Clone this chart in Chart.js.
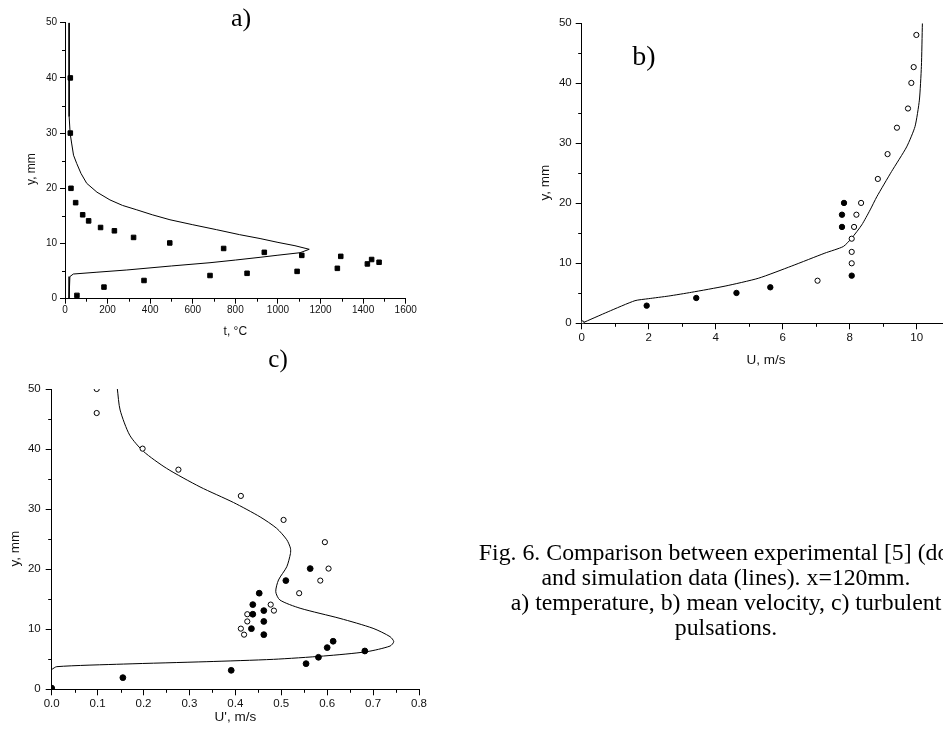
<!DOCTYPE html>
<html>
<head>
<meta charset="utf-8">
<script src="https://cdn.jsdelivr.net/npm/chart.js@4.4.0/dist/chart.umd.min.js"></script>
<style>
  html, body { margin: 0; padding: 0; background: #fff; }
  body { position: relative; width: 943px; height: 733px; overflow: hidden; }
  canvas, .tag, .cap { position: absolute; }
  .tag { font-family: 'Liberation Serif', 'Times New Roman', serif; line-height: 1; transform: translate(-50%, -60%); color: #000; white-space: nowrap; }
  .cap { left: 426px; top: 539.5px; width: 600px; text-align: center; font: 23.8px/25px 'Liberation Serif', 'Times New Roman', serif; color: #000; white-space: nowrap; }
</style>
</head>
<body>
<canvas id="chartA" width="430" height="345" style="left:0;top:0"></canvas>
<canvas id="chartB" width="480" height="370" style="left:500px;top:0"></canvas>
<canvas id="chartC" width="440" height="388" style="left:0;top:345px"></canvas>
<div class="tag" style="left:241px;top:21px;font-size:26px">a)</div>
<div class="tag" style="left:644px;top:59px;font-size:28px">b)</div>
<div class="tag" style="left:278px;top:361px;font-size:25px">c)</div>
<div class="cap">Fig. 6. Comparison between experimental [5] (dots)<br>and simulation data (lines). x=120mm.<br>a) temperature, b) mean velocity, c) turbulent<br>pulsations.</div>
<script>
// a) temperature
const tempLineT = [19, 19, 20, 24, 31, 40, 55, 75, 102, 150, 211, 270, 337, 410, 493, 600, 712, 820, 916, 1000, 1080, 1147, 1104, 1000, 916, 800, 681, 500, 290, 150, 39, 23, 19, 19];
const tempLineY = [50, 40, 33, 30, 28.2, 26, 24.5, 22.7, 20.9, 19.3, 17.9, 16.9, 16.1, 15.2, 14.3, 13.4, 12.5, 11.6, 10.9, 10.2, 9.6, 8.95, 8.33, 7.88, 7.5, 7.0, 6.52, 5.93, 5.2, 4.8, 4.47, 4.0, 3.4, 0];
const tempExpT = [25, 25, 28, 50, 83, 111, 167, 232, 322, 492, 745, 936, 1112, 1295, 1440, 1475, 1420, 1279, 1090, 855, 681, 371, 183, 56];
const tempExpY = [40, 30, 20, 17.4, 15.2, 14.1, 12.9, 12.3, 11.1, 10.1, 9.1, 8.4, 7.85, 7.67, 7.1, 6.6, 6.3, 5.5, 4.95, 4.6, 4.2, 3.3, 2.1, 0.6];

// b) mean velocity
const velLineU = [0, 0.79, 1.59, 1.99, 2.6, 3.28, 4.28, 5.27, 6.27, 7.26, 7.81, 8.06, 8.36, 8.61, 8.81, 9.25, 9.70, 9.95, 10.08, 10.14, 10.17];
const velLineY = [0, 1.93, 3.77, 4.1, 4.55, 5.17, 6.2, 7.5, 9.55, 11.7, 12.8, 14.2, 16.4, 18.9, 21.1, 25.3, 29.4, 32.8, 37.2, 42.8, 50];
const velFilledU = [1.94, 3.42, 4.62, 5.63, 8.06, 7.77, 7.77, 7.83];
const velFilledY = [2.94, 4.22, 5.06, 6.0, 7.94, 16.06, 18.1, 20.06];
const velOpenU = [0, 7.04, 8.06, 8.06, 8.06, 8.13, 8.2, 8.34, 8.84, 9.13, 9.41, 9.74, 9.84, 9.91, 9.99];
const velOpenY = [0, 7.1, 10, 11.9, 14.1, 16.06, 18.1, 20.06, 24.06, 28.2, 32.6, 35.8, 40.06, 42.7, 48.06];

// c) turbulent pulsations
const pulsLineU = [0.143, 0.149, 0.170, 0.2, 0.25, 0.323, 0.396, 0.454, 0.49, 0.512, 0.52, 0.52, 0.512, 0.494, 0.488, 0.497, 0.541, 0.628, 0.70, 0.737, 0.745, 0.737, 0.686, 0.592, 0.483, 0.338, 0.156, 0.011, 0];
const pulsLineY = [50, 46.5, 42.3, 39.6, 36.8, 33.7, 31.1, 28.7, 26.8, 24.9, 23.5, 22.6, 20.4, 18.2, 16.25, 14.87, 13.5, 11.8, 10.15, 8.76, 7.93, 7.2, 6.26, 5.54, 4.99, 4.6, 4.2, 3.77, 3.3];
const pulsOpenU = [0.098, 0.098, 0.198, 0.276, 0.412, 0.505, 0.595, 0.603, 0.585, 0.539, 0.477, 0.484, 0.426, 0.426, 0.412, 0.419];
const pulsOpenY = [50, 46, 40.07, 36.57, 32.2, 28.2, 24.5, 20.1, 18.1, 16, 14.1, 13.1, 12.5, 11.3, 10.1, 9.1];
const pulsFilledU = [0.563, 0.51, 0.452, 0.438, 0.438, 0.462, 0.462, 0.435, 0.462, 0.613, 0.6, 0.682, 0.581, 0.554, 0.391, 0.155, 0];
const pulsFilledY = [20.1, 18.1, 16, 14.1, 12.5, 13.1, 11.3, 10.1, 9.1, 8.0, 6.94, 6.38, 5.33, 4.27, 3.16, 1.94, 0.2];

const pairs = (xs, ys) => xs.map((x, i) => ({ x: x, y: ys[i] }));

const line = (xs, ys, tension) => ({
  data: pairs(xs, ys), showLine: true, borderColor: '#000', borderWidth: 1,
  pointRadius: 0, tension: tension, fill: false
});

const marks = (xs, ys, style, filled, r) => ({
  data: pairs(xs, ys), showLine: false, pointStyle: style, pointRadius: r,
  pointBackgroundColor: filled ? '#000' : '#fff', pointBorderColor: '#000', pointBorderWidth: 1
});

// short ticks between the labelled ones
const minorTicks = {
  id: 'minorTicks',
  afterDraw(chart, args, opts) {
    const ctx = chart.ctx;
    ctx.save();
    ctx.strokeStyle = '#000';
    ctx.lineWidth = 1;
    ctx.beginPath();
    ['x', 'y'].forEach(id => {
      const s = chart.scales[id];
      const step = opts[id];
      if (!step) return;
      for (let i = 1; s.min + i * step <= s.max + 1e-9; i += 2) {
        const p = Math.round(s.getPixelForValue(s.min + i * step)) + 0.5;
        if (id === 'x') { ctx.moveTo(p, s.top); ctx.lineTo(p, s.top + opts.len); }
        else { ctx.moveTo(s.right - opts.len, p); ctx.lineTo(s.right, p); }
      }
    });
    ctx.stroke();
    ctx.restore();
  }
};

// y titles sit a little below the middle of the axis in the original
const lowered = t => t + '\u00A0\u00A0\u00A0\u00A0\u00A0';

function axisChart(id, o) {
  const cv = document.getElementById(id);
  const W = cv.width, H = cv.height, a = o.area;
  const tickFont = { family: "'Liberation Sans', Arial, sans-serif", size: o.tickSize };
  const titleFont = { family: "'Liberation Sans', Arial, sans-serif", size: o.titleSize };
  const half = o.titleSize * 0.6;
  return new Chart(cv, {
    type: 'scatter',
    data: { datasets: o.datasets },
    options: {
      responsive: false,
      animation: false,
      events: [],
      layout: { padding: { left: 0, top: a.t, right: W - a.r, bottom: 0 } },
      plugins: {
        legend: { display: false },
        tooltip: { enabled: false },
        minorTicks: { x: o.x.minor, y: o.y.minor, len: o.minorLen }
      },
      scales: {
        x: {
          type: 'linear', min: o.x.min, max: o.x.max,
          border: { color: '#000', width: 1 },
          grid: { drawOnChartArea: false, tickLength: o.tickLen, tickColor: '#000' },
          ticks: { color: '#111', font: tickFont, padding: o.x.pad, stepSize: o.x.step, includeBounds: false, maxRotation: 0, autoSkip: false, callback: o.x.fmt },
          title: { display: true, text: o.x.title, color: '#111', font: titleFont, padding: { top: 0, bottom: H - o.xTitleY - half } },
          afterFit: s => { s.height = H - a.b; }
        },
        y: {
          type: 'linear', min: o.y.min, max: o.y.max,
          border: { color: '#000', width: 1 },
          grid: { drawOnChartArea: false, tickLength: o.tickLen, tickColor: '#000' },
          ticks: { color: '#111', font: tickFont, padding: o.y.pad, stepSize: o.y.step, includeBounds: false, autoSkip: false, callback: o.y.fmt },
          title: { display: true, text: lowered(o.y.title), color: '#111', font: titleFont, padding: { top: o.yTitleX - half, bottom: 0 } },
          afterFit: s => { s.width = a.l; }
        }
      }
    },
    plugins: [minorTicks]
  });
}

const plain = v => v;

axisChart('chartA', {
  area: { l: 65, t: 22.7, r: 405.7, b: 298.7 },
  tickSize: 10, titleSize: 12, tickLen: 5, minorLen: 3,
  yTitleX: 32, xTitleY: 332,
  x: { min: 0, max: 1600, step: 200, minor: 100, pad: 1, title: 't, \u00B0C', fmt: plain },
  y: { min: 0, max: 50, step: 10, minor: 5, pad: 3, title: 'y, mm', fmt: plain },
  datasets: [
    marks(tempExpT, tempExpY, 'rect', true, 3.2),
    line(tempLineT, tempLineY, 0)
  ]
});

axisChart('chartB', {
  area: { l: 81.7, t: 23.3, r: 450.2, b: 323.3 },
  tickSize: 11.5, titleSize: 13.5, tickLen: 6, minorLen: 3.5,
  yTitleX: 45, xTitleY: 360,
  x: { min: 0, max: 11, step: 2, minor: 1, pad: 2, title: 'U, m/s', fmt: plain },
  y: { min: 0, max: 50, step: 10, minor: 5, pad: 4, title: 'y, mm', fmt: plain },
  datasets: [
    marks(velFilledU, velFilledY, 'circle', true, 2.7),
    marks(velOpenU, velOpenY, 'circle', false, 2.6),
    line(velLineU, velLineY, 0.2)
  ]
});

axisChart('chartC', {
  area: { l: 51.7, t: 44, r: 419, b: 344.3 },
  tickSize: 11.5, titleSize: 13.5, tickLen: 6, minorLen: 3.5,
  yTitleX: 15, xTitleY: 372,
  x: { min: 0, max: 0.8, step: 0.1, minor: 0.05, pad: 2, title: "U', m/s", fmt: v => v.toFixed(1) },
  y: { min: 0, max: 50, step: 10, minor: 5, pad: 5, title: 'y, mm', fmt: plain },
  datasets: [
    marks(pulsFilledU, pulsFilledY, 'circle', true, 2.9),
    marks(pulsOpenU, pulsOpenY, 'circle', false, 2.6),
    line(pulsLineU, pulsLineY, 0.25)
  ]
});
</script>
</body>
</html>
